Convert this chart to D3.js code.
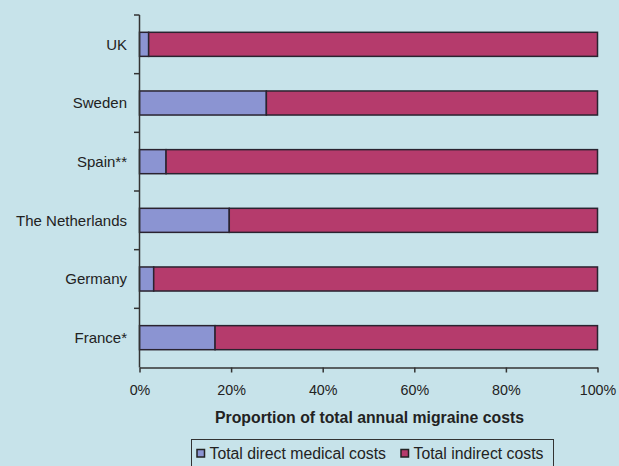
<!DOCTYPE html>
<html><head><meta charset="utf-8">
<script src="https://cdn.jsdelivr.net/npm/d3@7"></script>
<style>
html,body{margin:0;padding:0;background:#c7e3ea;}
svg{display:block;}
text{font-family:"Liberation Sans",Arial,sans-serif;fill:#222;}
</style></head>
<body>
<svg id="c" width="619" height="466"></svg>
<script>
const categories = ["UK","Sweden","Spain**","The Netherlands","Germany","France*"];
const directCosts = [2.0, 27.7, 5.8, 19.6, 3.1, 16.5];
const indirectCosts = [98.0, 72.3, 94.2, 80.4, 96.9, 83.5];
const xTicks = [0, 20, 40, 60, 80, 100];
const seriesNames = ["Total direct medical costs", "Total indirect costs"];
const seriesColors = ["#8b94d2", "#b53b6c"];
const xTitle = "Proportion of total annual migraine costs";

const svg = d3.select("#c");
svg.append("rect").attr("width",619).attr("height",466).attr("fill","#c7e3ea");

const x = d3.scaleLinear().domain([0,100]).range([139.5, 597.5]);
const y = d3.scaleBand().domain(categories).range([15, 367]).paddingInner(0.59).paddingOuter(0.295);

const stackData = categories.map((c,i)=>({cat:c, direct:directCosts[i], indirect:indirectCosts[i]}));
const stack = d3.stack().keys(["direct","indirect"])(stackData);

const g = svg.append("g");
stack.forEach((layer, si) => {
  g.selectAll(null).data(layer).enter().append("rect")
    .attr("x", d => x(d[0]))
    .attr("y", d => y(d.data.cat))
    .attr("width", d => x(d[1]) - x(d[0]))
    .attr("height", y.bandwidth())
    .attr("fill", seriesColors[si])
    .attr("stroke", "#2a2330")
    .attr("stroke-width", 1.5);
});

// Y axis (ticks between categories)
const yAxisG = svg.append("g");
yAxisG.append("line").attr("x1",139.5).attr("x2",139.5).attr("y1",15).attr("y2",367.5)
  .attr("stroke","#333").attr("stroke-width",1.5);
const step = y.step();
d3.range(categories.length).forEach(i => {
  const ty = 15 + i*step;
  yAxisG.append("line").attr("x1",134).attr("x2",139.5).attr("y1",ty).attr("y2",ty)
    .attr("stroke","#333").attr("stroke-width",1.5);
});
yAxisG.selectAll("text.cat").data(categories).enter().append("text")
  .attr("class","cat")
  .attr("x",127).attr("y", d => y(d) + y.bandwidth()/2)
  .attr("dy","0.35em").attr("text-anchor","end")
  .style("font-size","15px").text(d=>d);

// X axis
const xAxis = d3.axisBottom(x).tickValues(xTicks).tickFormat(d=>d+"%").tickSize(5).tickSizeOuter(0);
const xg = svg.append("g").attr("transform","translate(0,367.5)").call(xAxis);
xg.select(".domain").attr("stroke","#333").attr("stroke-width",1.5);
xg.selectAll(".tick line").attr("stroke","#333").attr("stroke-width",1.5);
xg.selectAll(".tick text").attr("y",17).attr("dy","0.71em")
  .style("font-size","14.3px").style("font-family","Liberation Sans, Arial, sans-serif").attr("fill","#222");

svg.append("text").attr("x",(212+527)/2).attr("y",417).attr("dy","0.35em")
  .attr("text-anchor","middle").style("font-size","15.8px").style("font-weight","bold").text(xTitle);

// Legend
const lg = svg.append("g");
lg.append("rect").attr("x",191.5).attr("y",439.5).attr("width",362).attr("height",28)
  .attr("fill","none").attr("stroke","#333").attr("stroke-width",1);
const legendX = [197, 401];
seriesNames.forEach((n,i)=>{
  lg.append("rect").attr("x",legendX[i]).attr("y",449.5).attr("width",7.5).attr("height",7.5)
    .attr("fill",seriesColors[i]).attr("stroke","#222").attr("stroke-width",1.5);
  lg.append("text").attr("x",legendX[i]+12.5).attr("y",453).attr("dy","0.35em")
    .style("font-size","15.8px").text(n);
});
</script>
</body></html>
